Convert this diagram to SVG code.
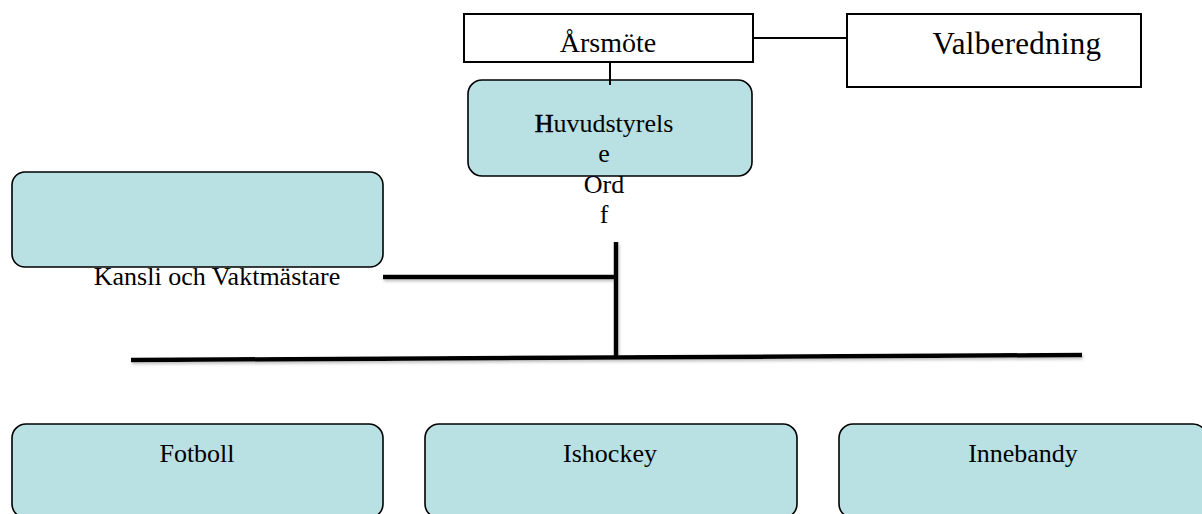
<svg xmlns="http://www.w3.org/2000/svg" width="1202" height="514" viewBox="0 0 1202 514">
<defs>
<style>
.plain{fill:#ffffff;stroke:#000000;stroke-width:2}
.teal{fill:#B9E0E3;stroke:#000000;stroke-width:1.6}
.t{font-family:"Liberation Serif","Times New Roman",serif;fill:#000000;text-anchor:middle}
.thin{stroke:#000000;stroke-width:2;fill:none}
.thick{stroke:#000000;stroke-width:4.5;fill:none;stroke-linecap:butt}
</style>
<filter id="sh" x="-5%" y="-50%" width="110%" height="200%">
<feDropShadow dx="1" dy="2" stdDeviation="1.5" flood-color="#808080" flood-opacity="0.5"/>
</filter>
</defs>
<rect width="1202" height="514" fill="#ffffff"/>
<g id="arsmote">
<rect class="plain" x="464" y="14" width="289" height="48"/>
<text class="t" x="608" y="52" font-size="28">Årsmöte</text>
</g>
<g id="valberedning">
<rect class="plain" x="847" y="14" width="294" height="73"/>
<text class="t" x="1017" y="54" font-size="31" letter-spacing="0.3">Valberedning</text>
</g>
<g id="huvudstyrelse">
<rect class="teal" x="468" y="80" width="284" height="96" rx="14" ry="14"/>
<text class="t" x="604" y="132" font-size="26"><tspan stroke="#000000" stroke-width="0.6">H</tspan>uvudstyrels</text>
<text class="t" x="604" y="162" font-size="26">e</text>
<text class="t" x="604" y="193" font-size="26">Ord</text>
<text class="t" x="604" y="223" font-size="26">f</text>
</g>
<g id="kansli">
<rect class="teal" x="12" y="172" width="371" height="95" rx="13" ry="13"/>
<text class="t" x="217" y="285" font-size="26">Kansli och Vaktmästare</text>
</g>
<g id="fotboll">
<rect class="teal" x="12" y="424" width="371" height="94" rx="14" ry="14"/>
<text class="t" x="197" y="462" font-size="26">Fotboll</text>
</g>
<g id="ishockey">
<rect class="teal" x="425" y="424" width="372" height="94" rx="14" ry="14"/>
<text class="t" x="610" y="462" font-size="26">Ishockey</text>
</g>
<g id="innebandy">
<rect class="teal" x="839" y="424" width="368" height="94" rx="14" ry="14"/>
<text class="t" x="1023" y="462" font-size="26">Innebandy</text>
</g>
<g id="connectors">
<line class="thin" x1="610" y1="62" x2="610" y2="85"/>
<line class="thin" x1="753" y1="38" x2="847" y2="38"/>
<g filter="url(#sh)">
<line class="thick" x1="616" y1="242" x2="616" y2="358"/>
<line class="thick" x1="383" y1="277" x2="616" y2="277"/>
<line class="thick" x1="131" y1="360" x2="1082" y2="355"/>
</g>
</g>
</svg>
